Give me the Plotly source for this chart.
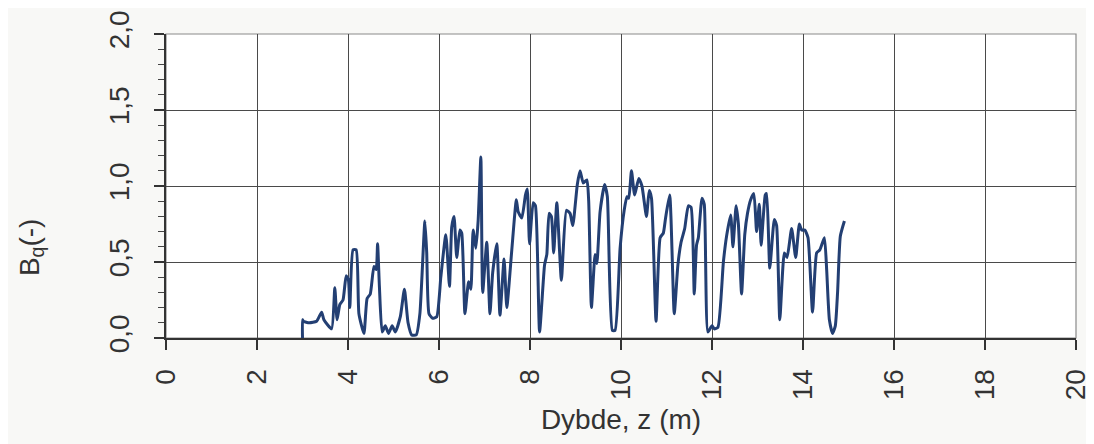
import plotly.graph_objects as go

# Depth (m) and B_q (-)
depth = [3.00, 3.00, 3.02, 3.15, 3.31, 3.42, 3.47, 3.64, 3.71, 3.76, 3.82, 3.89, 3.96, 4.01, 4.04,
         4.11, 4.18, 4.24, 4.35, 4.42, 4.49, 4.57, 4.62, 4.65, 4.69, 4.75, 4.82, 4.89, 4.97, 5.04,
         5.15, 5.24, 5.32, 5.40, 5.50, 5.58, 5.69, 5.73, 5.78, 5.86, 5.95, 6.04, 6.15, 6.23, 6.28,
         6.33, 6.39, 6.46, 6.50, 6.57, 6.65, 6.70, 6.75, 6.81, 6.86, 6.92, 6.96, 7.05, 7.12, 7.18,
         7.27, 7.34, 7.43, 7.49, 7.60, 7.70, 7.74, 7.82, 7.90, 7.94, 7.99, 8.07, 8.12, 8.21, 8.32,
         8.37, 8.42, 8.47, 8.52, 8.59, 8.69, 8.80, 8.88, 8.94, 9.04, 9.10, 9.17, 9.25, 9.29, 9.35,
         9.43, 9.47, 9.54, 9.64, 9.70, 9.81, 9.87, 9.98, 10.07, 10.13, 10.17, 10.23, 10.30, 10.39,
         10.46, 10.56, 10.62, 10.67, 10.77, 10.86, 10.93, 10.98, 11.07, 11.17, 11.25, 11.32, 11.40,
         11.48, 11.54, 11.61, 11.66, 11.70, 11.78, 11.83, 11.91, 12.00, 12.05, 12.13, 12.25, 12.32,
         12.41, 12.46, 12.53, 12.58, 12.65, 12.72, 12.78, 12.85, 12.92, 12.98, 13.04, 13.08, 13.17,
         13.20, 13.27, 13.37, 13.42, 13.49, 13.59, 13.65, 13.75, 13.84, 13.92, 13.97, 14.04, 14.11,
         14.21, 14.30, 14.37, 14.47, 14.52, 14.58, 14.65, 14.71, 14.76, 14.82, 14.91]
bq = [0.00, 0.12, 0.11, 0.10, 0.11, 0.17, 0.12, 0.06, 0.33, 0.12, 0.22, 0.25, 0.41, 0.38, 0.20,
      0.58, 0.58, 0.16, 0.03, 0.26, 0.29, 0.47, 0.45, 0.62, 0.34, 0.04, 0.08, 0.03, 0.08, 0.04,
      0.14, 0.32, 0.10, 0.02, 0.02, 0.16, 0.77, 0.56, 0.16, 0.13, 0.14, 0.40, 0.68, 0.34, 0.73,
      0.80, 0.53, 0.71, 0.69, 0.16, 0.37, 0.32, 0.71, 0.59, 0.77, 1.19, 0.30, 0.63, 0.16, 0.43,
      0.62, 0.15, 0.52, 0.20, 0.58, 0.91, 0.83, 0.79, 0.94, 0.98, 0.62, 0.89, 0.87, 0.04, 0.48,
      0.55, 0.82, 0.80, 0.56, 0.89, 0.38, 0.84, 0.82, 0.74, 1.01, 1.10, 1.02, 1.04, 0.90, 0.20,
      0.55, 0.49, 0.83, 1.01, 0.93, 0.05, 0.05, 0.59, 0.84, 0.93, 0.92, 1.10, 0.94, 1.05, 1.00,
      0.80, 0.97, 0.92, 0.11, 0.66, 0.69, 0.79, 0.94, 0.16, 0.48, 0.63, 0.72, 0.87, 0.86, 0.29,
      0.61, 0.66, 0.92, 0.88, 0.04, 0.08, 0.06, 0.07, 0.50, 0.67, 0.81, 0.60, 0.87, 0.75, 0.29,
      0.68, 0.82, 0.91, 0.95, 0.70, 0.88, 0.61, 0.94, 0.95, 0.46, 0.78, 0.74, 0.12, 0.56, 0.53,
      0.72, 0.53, 0.75, 0.71, 0.71, 0.66, 0.17, 0.56, 0.58, 0.66, 0.45, 0.12, 0.03, 0.08, 0.30,
      0.67, 0.77]

x_ticks = [0, 2, 4, 6, 8, 10, 12, 14, 16, 18, 20]
y_ticks = [0.0, 0.5, 1.0, 1.5, 2.0]
y_tick_labels = ["0,0", "0,5", "1,0", "1,5", "2,0"]

fig = go.Figure()
fig.add_trace(go.Scatter(x=depth, y=bq, mode="lines",
                         line=dict(color="#233f73", width=3, shape="spline", smoothing=0.5),
                         showlegend=False))

font_family = "Liberation Sans, Arial, sans-serif"
fig.update_layout(
    width=1086, height=436,
    margin=dict(l=158, r=18, t=26, b=106),
    paper_bgcolor="#f8f8f6",
    plot_bgcolor="#ffffff",
    font=dict(family=font_family, color="#333333", size=27),
    xaxis=dict(
        range=[0, 20], tickvals=x_ticks, ticktext=[str(v) for v in x_ticks],
        tickangle=-90, ticks="outside", ticklen=10, tickwidth=1.5, tickcolor="#333",
        ticklabelstandoff=8,
        showgrid=True, gridcolor="#4a4a4a", gridwidth=1,
        showline=True, linecolor="#333", linewidth=2, mirror=False,
        zeroline=False, automargin=False,
        title=dict(text="Dybde, z (m)", font=dict(size=28), standoff=10),
        tickfont=dict(size=28),
    ),
    yaxis=dict(
        range=[0, 2.0], tickvals=y_ticks, ticktext=y_tick_labels,
        tickangle=-90, ticks="outside", ticklen=10, tickwidth=1.5, tickcolor="#333",
        ticklabelstandoff=14,
        minor=dict(dtick=0.1, tick0=0, ticks="outside", ticklen=6, tickwidth=1.2,
                   tickcolor="#444", showgrid=False),
        showgrid=True, gridcolor="#4a4a4a", gridwidth=1,
        showline=True, linecolor="#333", linewidth=2,
        zeroline=False, automargin=False,
        tickfont=dict(size=28),
    ),
    annotations=[dict(text="B<sub>q</sub>(-)", textangle=-90, showarrow=False,
                      xref="paper", yref="paper", x=-0.148, y=0.30,
                      xanchor="center", yanchor="middle",
                      font=dict(size=28, color="#333333"))],
)
# light frame on top/right like the scanned chart
fig.add_shape(type="rect", xref="paper", yref="paper", x0=0, y0=0, x1=1, y1=1,
              line=dict(color="#8a8a8a", width=1.2), layer="below")

fig.write_html("out.html")
